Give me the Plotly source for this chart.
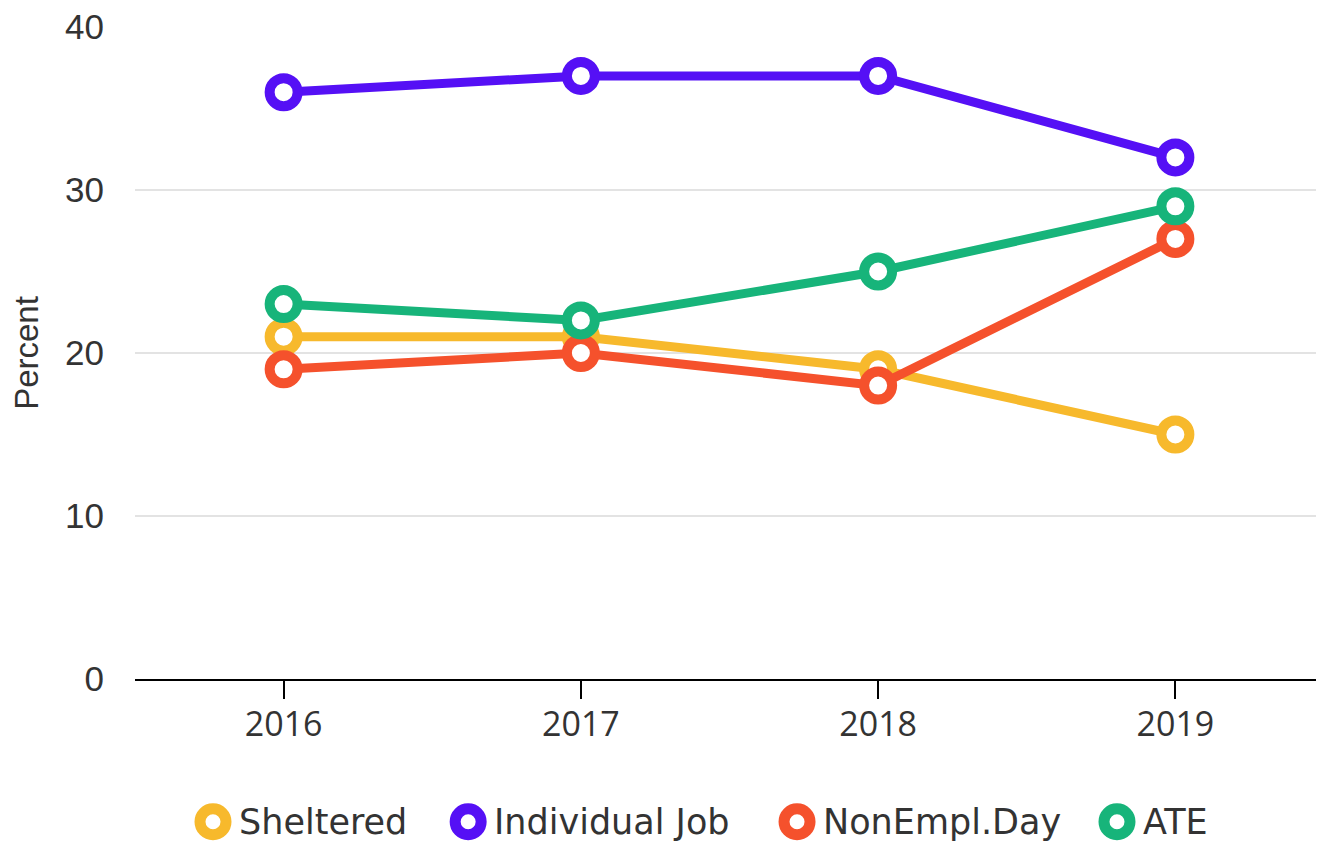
import plotly.graph_objects as go

years = ["2016", "2017", "2018", "2019"]
series_names = ["Sheltered", "Individual Job", "NonEmpl.Day", "ATE"]
sheltered = [21, 21, 19, 15]
individual_job = [36, 37, 37, 32]
nonempl_day = [19, 20, 18, 27]
ate = [23, 22, 25, 29]
y_ticks = [0, 10, 20, 30, 40]

colors = ["#F7B92C", "#5510F5", "#F5512C", "#17B47A"]
values = [sheltered, individual_job, nonempl_day, ate]

fig = go.Figure()
for name, vals, col in zip(series_names, values, colors):
    fig.add_trace(go.Scatter(
        x=years, y=vals, name=name, mode="lines+markers",
        line=dict(color=col, width=9),
        marker=dict(size=28, color="white", line=dict(color=col, width=10)),
        showlegend=False,
    ))

# custom legend
legend_x = [0.0656, 0.2802, 0.5568, 0.8259]  # paper positions of legend circles
for name, col, lx in zip(series_names, colors, legend_x):
    fig.add_shape(type="circle", xref="paper", yref="paper",
                  xsizemode="pixel", ysizemode="pixel",
                  xanchor=lx, yanchor=-0.219,
                  x0=-13, x1=13, y0=-13, y1=13,
                  line=dict(color=col, width=11), fillcolor="white")
    fig.add_annotation(text=name, xref="paper", yref="paper",
                       x=lx, y=-0.219, xanchor="left", yanchor="middle",
                       xshift=24, showarrow=False,
                       font=dict(family="DejaVu Sans, sans-serif", size=35, color="#333333"))

fig.update_layout(
    width=1316, height=835,
    margin=dict(l=127, r=0, t=19, b=164),
    plot_bgcolor="white", paper_bgcolor="white",
    showlegend=False,
)
fig.update_xaxes(
    type="category", range=[-0.5, 3.5],
    showline=True, linecolor="black", linewidth=2,
    ticks="outside", ticklen=18, tickwidth=2, tickcolor="black",
    showgrid=False, ticklabelstandoff=-4,
    tickfont=dict(family="Open Sans, sans-serif", size=34, color="#333333"),
)
fig.update_yaxes(
    range=[0, 40], tickvals=y_ticks,
    showgrid=True, gridcolor="#E3E3E3", gridwidth=2,
    zeroline=False, showline=False,
    ticks="", ticklabelstandoff=30, ticklabeloverflow="allow",
    tickfont=dict(family="Liberation Sans, Arial, sans-serif", size=35, color="#333333"),
    title=dict(text="Percent", standoff=24,
               font=dict(family="Liberation Sans, Arial, sans-serif", size=33, color="#333333")),
)

fig.write_html("out.html")
